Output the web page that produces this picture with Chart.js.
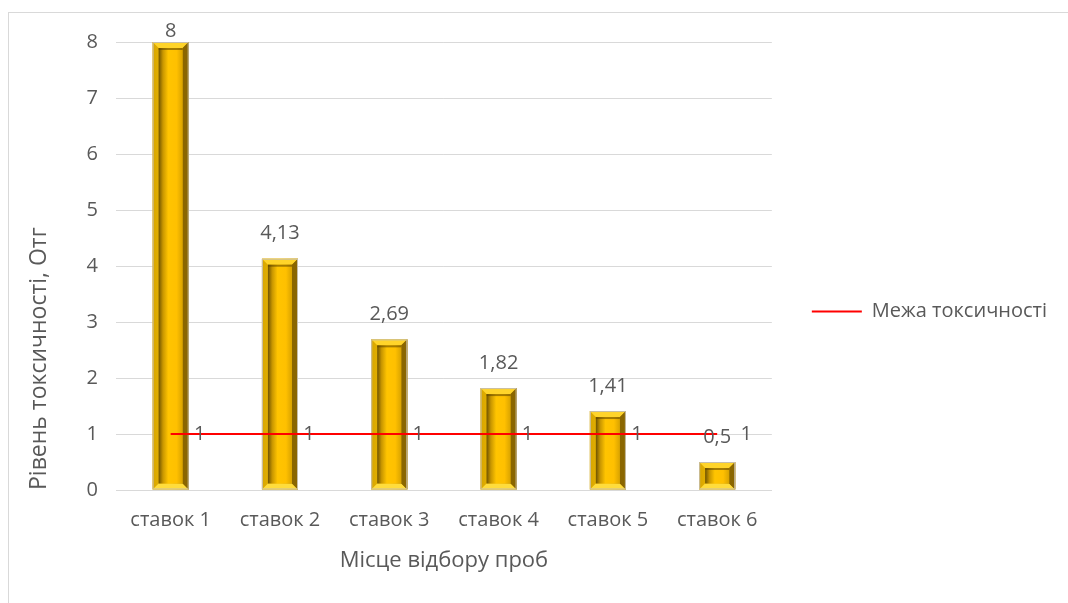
<!DOCTYPE html>
<html>
<head>
<meta charset="utf-8">
<script src="https://cdn.jsdelivr.net/npm/chart.js@4.4.1/dist/chart.umd.min.js"></script>
<style>
    html, body { margin: 0; padding: 0; background: #fff; }
    #wrap { position: relative; width: 1068px; height: 603px; }
</style>
</head>
<body>
<div id="wrap"><canvas id="myChart" width="1068" height="603"></canvas></div>
<script>
const categories = ['ставок 1', 'ставок 2', 'ставок 3', 'ставок 4', 'ставок 5', 'ставок 6'];
const toxicity = [8, 4.13, 2.69, 1.82, 1.41, 0.5];
const limitValues = [1, 1, 1, 1, 1, 1];
const yTicks = [0, 1, 2, 3, 4, 5, 6, 7, 8];

const FONT = '"Open Sans", Roboto, sans-serif';
const GREY = '#595959';

const fmt = v => String(v).replace('.', ',');

// light frame around the whole chart, like the Excel chart border
const framePlugin = {
    id: 'frame',
    beforeDraw(chart) {
        const ctx = chart.ctx;
        ctx.save();
        ctx.strokeStyle = '#d9d9d9';
        ctx.lineWidth = 1;
        ctx.strokeRect(8.5, 12.5, 1100, 700);
        ctx.restore();
    }
};

// bevelled gold look for the bars
const bevelPlugin = {
    id: 'bevel',
    afterDatasetDraw(chart, args) {
        if (args.meta.type !== 'bar') return;
        const ctx = chart.ctx;
        args.meta.data.forEach(bar => {
            const { x, y, base, width } = bar.getProps(['x', 'y', 'base', 'width'], true);
            const l = x - width / 2, r = x + width / 2, t = y, b = base;
            const h = b - t;
            const e = Math.min(6, h / 3);
            ctx.save();
            // outer body
            let g = ctx.createLinearGradient(l, 0, r, 0);
            g.addColorStop(0, '#d7a600');
            g.addColorStop(0.5, '#f5bc00');
            g.addColorStop(1, '#8f6c00');
            ctx.fillStyle = g;
            ctx.fillRect(l, t, width, h);
            // top edge
            ctx.fillStyle = '#ffd42a';
            ctx.beginPath();
            ctx.moveTo(l, t); ctx.lineTo(r, t); ctx.lineTo(r - e, t + e); ctx.lineTo(l + e, t + e); ctx.closePath();
            ctx.fill();
            // bottom edge
            ctx.fillStyle = '#ffdc3c';
            ctx.beginPath();
            ctx.moveTo(l, b); ctx.lineTo(r, b); ctx.lineTo(r - e, b - e); ctx.lineTo(l + e, b - e); ctx.closePath();
            ctx.fill();
            // right edge
            ctx.fillStyle = '#8a6600';
            ctx.beginPath();
            ctx.moveTo(r, t); ctx.lineTo(r, b); ctx.lineTo(r - e, b - e); ctx.lineTo(r - e, t + e); ctx.closePath();
            ctx.fill();
            // inner face
            g = ctx.createLinearGradient(l + e, 0, r - e, 0);
            g.addColorStop(0, '#6e5300');
            g.addColorStop(0.18, '#c89600');
            g.addColorStop(0.4, '#ffc400');
            g.addColorStop(0.75, '#ffc000');
            g.addColorStop(1, '#d9a300');
            ctx.fillStyle = g;
            ctx.fillRect(l + e, t + e, width - 2 * e, h - 2 * e);
            // inner top shadow
            ctx.fillStyle = 'rgba(90,65,0,0.55)';
            ctx.fillRect(l + e, t + e, width - 2 * e, Math.min(2, h / 8));
            // thin outline
            ctx.strokeStyle = '#c8bfa8';
            ctx.lineWidth = 1;
            ctx.strokeRect(l + 0.5, t + 0.5, width - 1, h - 1);
            ctx.restore();
        });
    }
};

// value labels: above the bars, right of the line points
const labelPlugin = {
    id: 'valueLabels',
    afterDatasetsDraw(chart) {
        const ctx = chart.ctx;
        ctx.save();
        ctx.font = '20px ' + FONT;
        ctx.fillStyle = GREY;
        ctx.textBaseline = 'middle';
        ctx.textAlign = 'center';
        chart.data.datasets.forEach((ds, i) => {
            const meta = chart.getDatasetMeta(i);
            meta.data.forEach((el, j) => {
                const txt = fmt(ds.data[j]);
                if (meta.type === 'bar') {
                    ctx.fillText(txt, el.x, Math.max(el.y - 25, 31));
                } else {
                    ctx.fillText(txt, el.x + 29, el.y);
                }
            });
        });
        ctx.restore();
    }
};

function createChart() {
    const ctx = document.getElementById('myChart').getContext('2d');
    new Chart(ctx, {
        type: 'bar',
        data: {
            labels: categories,
            datasets: [
                {
                    type: 'bar',
                    label: 'Рівень токсичності',
                    data: toxicity,
                    backgroundColor: '#ffc000',
                    barPercentage: 0.66,
                    categoryPercentage: 0.5,
                    order: 1
                },
                {
                    type: 'line',
                    label: 'Межа токсичності',
                    data: limitValues,
                    borderColor: '#ff0000',
                    backgroundColor: '#ff0000',
                    borderWidth: 2,
                    pointRadius: 0,
                    fill: false,
                    order: 0
                }
            ]
        },
        options: {
            responsive: false,
            animation: false,
            layout: { padding: { left: 24, top: 42, right: 11, bottom: 22 } },
            plugins: {
                tooltip: { enabled: false },
                legend: {
                    display: true,
                    position: 'right',
                    maxWidth: 400,
                    labels: {
                        filter: item => item.text === 'Межа токсичності',
                        usePointStyle: true,
                        pointStyle: 'line',
                        pointStyleWidth: 50,
                        padding: 40,
                        color: GREY,
                        font: { family: FONT, size: 20 }
                    }
                }
            },
            scales: {
                x: {
                    grid: { display: false, drawTicks: false },
                    border: { display: true, color: '#d9d9d9' },
                    ticks: { color: GREY, padding: 18, font: { family: FONT, size: 20 } },
                    title: {
                        display: true,
                        text: 'Місце відбору проб',
                        color: GREY,
                        padding: { top: 4, bottom: 7 },
                        font: { family: FONT, size: 22 }
                    },
                    afterFit: scale => { scale.height = 91; }
                },
                y: {
                    min: 0,
                    max: 8,
                    afterBuildTicks: scale => { scale.ticks = yTicks.map(v => ({ value: v })); },
                    grid: { color: '#d9d9d9', drawTicks: false },
                    border: { display: false },
                    ticks: { color: GREY, padding: 18, font: { family: FONT, size: 20 } },
                    title: {
                        display: true,
                        text: 'Рівень токсичності, Отг',
                        color: GREY,
                        align: 'start',
                        padding: { top: 2, bottom: 4 },
                        font: { family: FONT, size: 23 }
                    },
                    afterFit: scale => { scale.width = 92; }
                }
            }
        },
        plugins: [framePlugin, bevelPlugin, labelPlugin]
    });
}

document.addEventListener('DOMContentLoaded', () => {
    // make sure the fonts are ready before Chart.js measures the texts
    Promise.all([
        document.fonts.load('20px "Open Sans"', 'Межа токсичності'),
        document.fonts.load('23px "Open Sans"', 'Рівень')
    ]).catch(() => {}).then(createChart);
});
</script>
</body>
</html>
